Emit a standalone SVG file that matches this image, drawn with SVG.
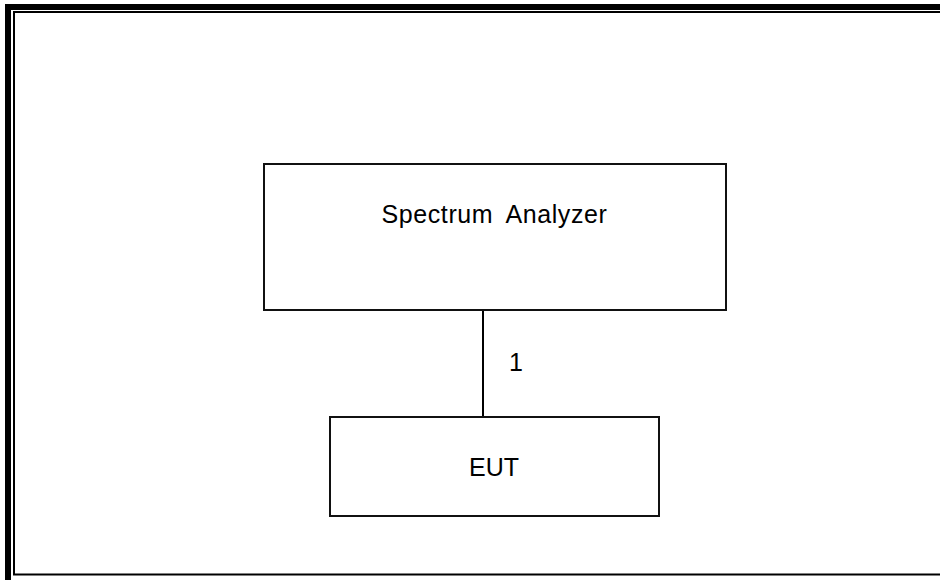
<svg xmlns="http://www.w3.org/2000/svg" width="940" height="580" viewBox="0 0 940 580">
  <style>
    .frame-outer { fill: none; stroke: #000; stroke-width: 6; }
    .frame-inner { fill: none; stroke: #000; stroke-width: 2; }
    .box { fill: #fff; stroke: #111; stroke-width: 2; }
    .label { font-family: "Liberation Sans", Arial, sans-serif; font-size: 25px; fill: #000; text-anchor: middle; }
    .wire { stroke: #000; stroke-width: 2; fill: none; }
  </style>
  <rect width="940" height="580" fill="#fff"/>
  <!-- double page frame -->
  <g id="frame">
    <rect class="frame-outer" x="8" y="7" width="940" height="576"/>
    <rect class="frame-inner" x="14" y="12" width="930" height="562.5"/>
  </g>
  <g id="connectors">
    <line class="wire" x1="483" y1="310" x2="483" y2="417"/>
    <text class="label" x="516" y="371">1</text>
  </g>
  <g id="spectrum-analyzer">
    <rect class="box" x="264" y="164" width="462" height="146"/>
    <text class="label" x="494.5" y="223" word-spacing="6" letter-spacing="0.6">Spectrum Analyzer</text>
  </g>
  <g id="eut">
    <rect class="box" x="330" y="417" width="329" height="99"/>
    <text class="label" x="494" y="476">EUT</text>
  </g>
</svg>
